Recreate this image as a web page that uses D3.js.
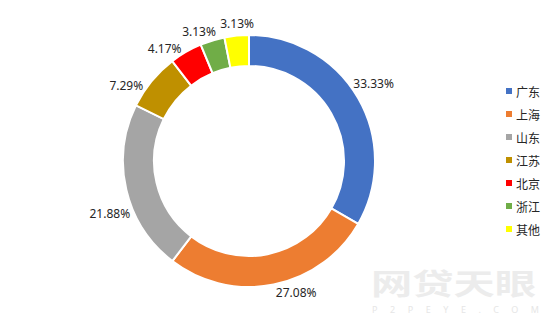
<!DOCTYPE html>
<html lang="zh">
<head>
    <meta charset="UTF-8">
    <script src="https://d3js.org/d3.v7.min.js"></script>
    <style>
        body { margin: 0; background: #fff; }
        text { font-family: "Noto Sans", "Noto Sans CJK SC", sans-serif; }
    </style>
</head>
<body>
    <svg id="chart" width="554" height="323"></svg>
    <script>
        // 数据
        const regions = ["广东", "上海", "山东", "江苏", "北京", "浙江", "其他"];
        const shares = [33.33, 27.08, 21.88, 7.29, 4.17, 3.13, 3.13];
        const colors = ["#4472C4", "#ED7D31", "#A5A5A5", "#BF9000", "#FF0000", "#70AD47", "#FFFF00"];

        // 标签微调角度（度），模仿原图手动拖动的标签位置
        const labelNudge = [-4, -7, -9, -6, -5, -3, 1];

        const width = 554, height = 323;
        const cx = 249, cy = 161;
        const outerR = 126, innerR = 95;

        const svg = d3.select("#chart")
            .attr("width", width)
            .attr("height", height);

        // 水印
        svg.append("text")
            .attr("x", 371)
            .attr("y", 295)
            .attr("textLength", 165)
            .attr("lengthAdjust", "spacingAndGlyphs")
            .style("font-family", "'Noto Sans CJK SC', sans-serif")
            .style("font-weight", "bold")
            .style("font-size", "29px")
            .attr("fill", "#ececec")
            .text("网贷天眼");

        svg.append("text")
            .attr("x", 372)
            .attr("y", 313)
            .attr("textLength", 167)
            .attr("lengthAdjust", "spacing")
            .style("font-size", "9px")
            .attr("fill", "#e6e6e6")
            .text("P2PEYE.COM");

        const pie = d3.pie().sort(null).value(d => d);
        const arcs = pie(shares);

        const arc = d3.arc().innerRadius(innerR).outerRadius(outerR);

        const g = svg.append("g").attr("transform", `translate(${cx},${cy})`);

        g.selectAll("path")
            .data(arcs)
            .enter().append("path")
            .attr("d", arc)
            .attr("fill", (d, i) => colors[i])
            .attr("stroke", "#fff")
            .attr("stroke-width", 2);

        // 百分比标签
        const labels = g.selectAll(".label")
            .data(arcs)
            .enter().append("text")
            .attr("class", "label")
            .style("font-size", "12px")
            .attr("fill", "#262626")
            .attr("text-anchor", "middle")
            .attr("dominant-baseline", "central")
            .text(d => d.value.toFixed(2) + "%");

        labels.each(function(d, i) {
            const w = this.getComputedTextLength();
            const h = 16;
            const a = (d.startAngle + d.endAngle) / 2 + labelNudge[i] * Math.PI / 180;
            const s = Math.sin(a), c = -Math.cos(a);
            const rl = outerR + 4;
            d3.select(this)
                .attr("x", s * rl + s * w / 2)
                .attr("y", c * rl + c * h / 2);
        });

        // 图例
        const legend = svg.append("g")
            .selectAll("g")
            .data(regions)
            .enter().append("g")
            .attr("transform", (d, i) => `translate(506,${91 + i * 23})`);

        legend.append("rect")
            .attr("x", 0)
            .attr("y", -3)
            .attr("width", 6)
            .attr("height", 6)
            .attr("fill", (d, i) => colors[i]);

        legend.append("text")
            .attr("x", 10)
            .attr("y", 0)
            .attr("dominant-baseline", "central")
            .style("font-family", "'Noto Sans CJK SC', sans-serif")
            .style("font-size", "12px")
            .attr("fill", "#262626")
            .text(d => d);
    </script>
</body>
</html>
